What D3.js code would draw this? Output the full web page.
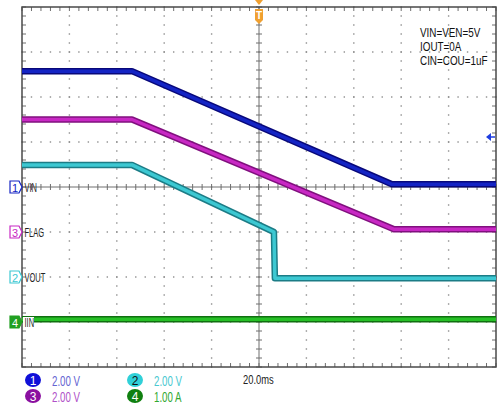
<!DOCTYPE html>
<html>
<head>
<meta charset="utf-8">
<script src="https://cdn.jsdelivr.net/npm/d3@7"></script>
<style>
  body { margin: 0; background: #fff; }
  svg { display: block; }
  text { font-family: "Liberation Sans", Arial, sans-serif; }
</style>
</head>
<body>
<svg width="497" height="405"></svg>
<script>
// scope traces, time in ms (20 ms/div, trigger at 0), level in V or A
var ch1Time = [-100, -53.6, 56.1, 100],
    ch1Vals = [5.15, 5.15, 0.12, 0.12];
var ch3Time = [-100, -53.6, 57, 100],
    ch3Vals = [5.0, 5.0, 0.12, 0.12];
var ch2Time = [-100, -53.6, 6.3, 6.7, 100],
    ch2Vals = [4.98, 4.98, 2.0, -0.05, -0.05];
var ch4Time = [-100, 100],
    ch4Vals = [0.06, 0.06];

var channels = [
  {id: 1, name: "VIN",  time: ch1Time, vals: ch1Vals, offset: 0,  perDiv: 2, scaleText: "2.00 V"},
  {id: 3, name: "FLAG", time: ch3Time, vals: ch3Vals, offset: -1, perDiv: 2, scaleText: "2.00 V"},
  {id: 2, name: "VOUT", time: ch2Time, vals: ch2Vals, offset: -2, perDiv: 2, scaleText: "2.00 V"},
  {id: 4, name: "IIN",  time: ch4Time, vals: ch4Vals, offset: -3, perDiv: 1, scaleText: "1.00 A"}
];
var notes = ["VIN=VEN=5V", "IOUT=0A", "CIN=COU=1uF"];
var timeLabel = "20.0ms";

var colors = {
  1: {outer: "#08087a", inner: "#1424c4", text: "#6464d2", dot: "#1010d8"},
  3: {outer: "#80107e", inner: "#c828c4", text: "#b050c8", dot: "#8a10a0"},
  2: {outer: "#1c7c86", inner: "#3cc8d2", text: "#48c8d0", dot: "#30d0d8"},
  4: {outer: "#107010", inner: "#26c026", text: "#30a830", dot: "#108010"}
};

var svg = d3.select("svg"),
    pLeft = 22, pRight = 496, pTop = 7, pBottom = 367;

var x = d3.scaleLinear().domain([-100, 100]).range([pLeft, pRight]);
var y = d3.scaleLinear().domain([-4, 4]).range([pBottom, pTop]); // divisions

// condensed text, like the scope's narrow font
function narrow(parent, tx, ty, str, size, fill, sx) {
  return parent.append("text")
    .attr("transform", "translate(" + tx + "," + ty + ") scale(" + (sx || 0.75) + ",1)")
    .attr("font-size", size).attr("fill", fill).text(str);
}

var g = svg.append("g");

// dotted grid
var gridX = d3.range(-80, 100, 20).filter(d => d !== 0),
    gridY = d3.range(-3, 4, 1).filter(d => d !== 0),
    subX = d3.range(-100, 100.1, 4),
    subY = d3.range(-4, 4.01, 0.2);

gridX.forEach(function(t) {
  g.selectAll(null).data(subY).enter().append("rect")
    .attr("x", x(t) - 0.7).attr("y", d => y(d) - 0.7)
    .attr("width", 1.4).attr("height", 1.4).attr("fill", "#8c8c8c");
});
gridY.forEach(function(v) {
  g.selectAll(null).data(subX).enter().append("rect")
    .attr("x", d => x(d) - 0.7).attr("y", y(v) - 0.7)
    .attr("width", 1.4).attr("height", 1.4).attr("fill", "#8c8c8c");
});

// center axes with ticks
g.append("line").attr("x1", x(0)).attr("x2", x(0)).attr("y1", pTop).attr("y2", pBottom)
  .attr("stroke", "#6e6e6e").attr("stroke-width", 1);
g.append("line").attr("x1", pLeft).attr("x2", pRight).attr("y1", y(0)).attr("y2", y(0))
  .attr("stroke", "#6e6e6e").attr("stroke-width", 1);
g.selectAll(".cty").data(subY).enter().append("line")
  .attr("x1", x(0) - 3).attr("x2", x(0) + 3).attr("y1", d => y(d)).attr("y2", d => y(d))
  .attr("stroke", "#6e6e6e");
g.selectAll(".ctx").data(subX).enter().append("line")
  .attr("x1", d => x(d)).attr("x2", d => x(d)).attr("y1", y(0) - 3).attr("y2", y(0) + 3)
  .attr("stroke", "#6e6e6e");

// frame ticks
g.selectAll(".ftl").data(subY).enter().append("line")
  .attr("x1", pLeft).attr("x2", pLeft + 4).attr("y1", d => y(d)).attr("y2", d => y(d)).attr("stroke", "#6e6e6e");
g.selectAll(".ftr").data(subY).enter().append("line")
  .attr("x1", pRight - 4).attr("x2", pRight).attr("y1", d => y(d)).attr("y2", d => y(d)).attr("stroke", "#6e6e6e");
g.selectAll(".ftt").data(subX).enter().append("line")
  .attr("x1", d => x(d)).attr("x2", d => x(d)).attr("y1", pTop).attr("y2", pTop + 4).attr("stroke", "#6e6e6e");
g.selectAll(".ftb").data(subX).enter().append("line")
  .attr("x1", d => x(d)).attr("x2", d => x(d)).attr("y1", pBottom - 4).attr("y2", pBottom).attr("stroke", "#6e6e6e");

// frame
g.append("rect").attr("x", pLeft).attr("y", pTop).attr("width", pRight - pLeft).attr("height", pBottom - pTop)
  .attr("fill", "none").attr("stroke", "#4a4a4a").attr("stroke-width", 1.5);

// traces
var traces = svg.append("g");
channels.slice().reverse().forEach(function(c) {
  var pts = c.time.map((t, i) => [t, c.vals[i]]);
  var line = d3.line()
    .x(d => x(d[0]))
    .y(d => y(c.offset + d[1] / c.perDiv));
  traces.append("path").datum(pts).attr("d", line)
    .attr("fill", "none").attr("stroke", colors[c.id].outer).attr("stroke-width", 6.5)
    .attr("stroke-linejoin", "round");
  traces.append("path").datum(pts).attr("d", line)
    .attr("fill", "none").attr("stroke", colors[c.id].inner).attr("stroke-width", 3.5)
    .attr("stroke-linejoin", "round");
});

// channel markers at left
channels.forEach(function(c) {
  var cy = y(c.offset), col = colors[c.id];
  var filled = c.id === 4;
  var mk = svg.append("g");
  mk.append("path")
    .attr("d", "M10," + (cy - 6) + " H19 L22," + cy + " L19," + (cy + 6) + " H10 Z")
    .attr("fill", filled ? "#22a022" : "#fff")
    .attr("stroke", filled ? "#22a022" : col.inner).attr("stroke-width", 1.2);
  mk.append("text").attr("x", 15).attr("y", cy + 4.5).attr("text-anchor", "middle")
    .attr("font-size", 11).attr("fill", filled ? "#fff" : col.inner).text(c.id);
  if (filled) {
    mk.append("rect").attr("x", 23).attr("y", cy - 5).attr("width", 11).attr("height", 10).attr("fill", "#fff");
  }
  narrow(mk, 24.5, cy + 4.5, c.name, 12.5, "#222", 0.6);
});

// trigger marker
var tx = x(0);
svg.append("path").attr("d", "M" + (tx - 4) + ",0 H" + (tx + 4) + " L" + tx + ",5 Z").attr("fill", "#f0a030");
svg.append("path")
  .attr("d", "M" + (tx - 4) + ",9 H" + (tx + 4) + " V20 L" + tx + ",24 L" + (tx - 4) + ",20 Z")
  .attr("fill", "#f0a030");
svg.append("text").attr("x", tx).attr("y", 19).attr("text-anchor", "middle")
  .attr("font-size", 10).attr("font-weight", "bold").attr("fill", "#fff").text("T");

// trigger level arrow on right
svg.append("path").attr("d", "M486,137 L491,133 V141 Z").attr("fill", "#1e3ee0");
svg.append("line").attr("x1", 490).attr("x2", 495).attr("y1", 137).attr("y2", 137)
  .attr("stroke", "#1e3ee0").attr("stroke-width", 1.5);

// notes
notes.forEach(function(n, i) {
  narrow(svg, 420, 37 + i * 14, n, 13, "#111", 0.76);
});

// bottom scale readouts
var readPos = {1: [33, 380], 2: [135, 380], 3: [33, 396], 4: [135, 396]};
channels.forEach(function(c) {
  var p = readPos[c.id], col = colors[c.id];
  svg.append("ellipse").attr("cx", p[0]).attr("cy", p[1]).attr("rx", 8).attr("ry", 7).attr("fill", col.dot);
  svg.append("text").attr("x", p[0]).attr("y", p[1] + 4.5).attr("text-anchor", "middle")
    .attr("font-size", 12).attr("fill", c.id === 2 ? "#111" : "#fff").text(c.id);
  narrow(svg, p[0] + 19, p[1] + 5.5, c.scaleText, 14.5, col.text, 0.67);
});
narrow(svg, 243, 384, timeLabel, 13, "#222", 0.72);
</script>
</body>
</html>
